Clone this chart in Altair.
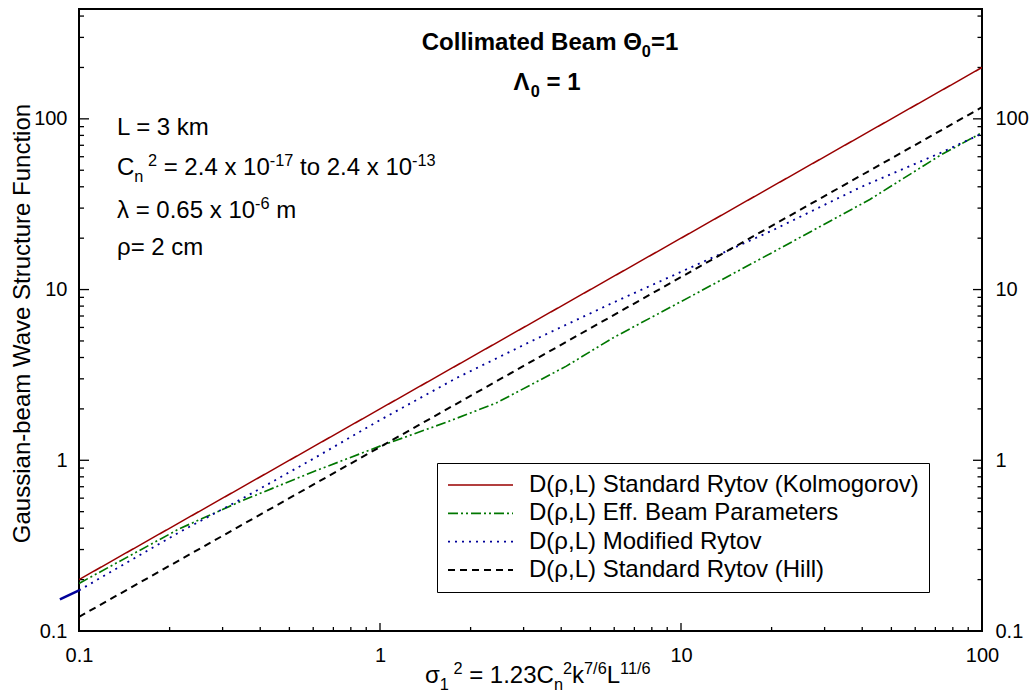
import altair as alt
import pandas as pd

FONT = "Liberation Sans, Arial, Helvetica, sans-serif"

# ---------------- data ----------------
x_kolm = [0.1, 100]
y_kolm = [0.2, 200]

x_hill = [0.1, 100]
y_hill = [0.121, 117]

x_mod = [0.1, 0.216, 0.351, 0.6, 1.0, 1.8, 3.27, 6.0, 10.7, 20.0, 39.3, 72.5, 100]
y_mod = [0.173, 0.38, 0.60, 1.02, 1.72, 3.04, 5.1, 8.44, 13.4, 22.1, 39.6, 63.0, 82.0]

x_eff = [0.1, 0.216, 0.351, 0.6, 1.0, 1.66, 2.44, 4.16, 5.94, 10.7, 20.0, 42.4, 72.5, 100]
y_eff = [0.19, 0.398, 0.583, 0.857, 1.21, 1.67, 2.17, 3.56, 5.21, 9.06, 16.4, 33.7, 61.0, 83.0]

# small piece of the modified-Rytov curve drawn outside the left frame
x_mod_outside = [0.0864, 0.1]
y_mod_outside = [0.153, 0.173]

series_names = [
    "D(ρ,L) Standard Rytov (Kolmogorov)",
    "D(ρ,L) Eff. Beam Parameters",
    "D(ρ,L) Modified Rytov",
    "D(ρ,L) Standard Rytov (Hill)",
]
series_colors = ["#990000", "#007700", "#000099", "#000000"]
series_dash = [[1, 0], [10, 3, 2, 3, 2, 3], [2, 5], [7, 5]]
series_width = [1.5, 2, 2, 2]

x_major = [0.1, 1, 10, 100]
y_major = [0.1, 1, 10, 100]
x_minor = [m * d for d in (0.1, 1, 10) for m in range(2, 10)]
y_minor = [m * d for d in (0.1, 1, 10) for m in range(2, 10)] + [200, 300, 400]

# ---------------- layout ----------------
W, H = 903, 622
ORX, ORY = 79, 9

xscale = alt.Scale(type="log", domain=[0.1, 100], nice=False)
yscale = alt.Scale(type="log", domain=[0.1, 440], nice=False)

rows = []
for name, xs, ys in zip(series_names, [x_kolm, x_eff, x_mod, x_hill],
                        [y_kolm, y_eff, y_mod, y_hill]):
    for a, b in zip(xs, ys):
        rows.append({"series": name, "x": a, "y": b})
df = pd.DataFrame(rows)

legend = alt.Legend(
    title=None, orient="none", legendX=358, legendY=454,
    symbolType="stroke", symbolSize=4225, symbolStrokeWidth=2,
    clipHeight=24, rowPadding=4.3, padding=10,
    labelFont=FONT, labelFontSize=24, labelColor="black", labelLimit=0,
    labelOffset=15, strokeColor="black", fillColor="white",
)

lab = dict(labelFont=FONT, labelFontSize=20, labelColor="black",
           ticks=False, tickSize=0, domain=False, grid=False,
           labelFlush=False, format=".3~g")

lines = alt.Chart(df).mark_line(clip=True).encode(
    x=alt.X("x:Q", scale=xscale,
            axis=alt.Axis(values=x_major, title=None, orient="bottom",
                          labelPadding=14, **lab)),
    y=alt.Y("y:Q", scale=yscale,
            axis=alt.Axis(values=y_major, orient="left", labelPadding=12,
                          title="Gaussian-beam Wave Structure Function",
                          titleX=-57, titleY=314, titleAngle=270,
                          titleAlign="center", titleBaseline="middle",
                          titleFont=FONT, titleFontSize=24,
                          titleFontWeight="normal", titleColor="black", **lab)),
    color=alt.Color("series:N", scale=alt.Scale(domain=series_names, range=series_colors),
                    legend=legend),
    strokeDash=alt.StrokeDash("series:N",
                              scale=alt.Scale(domain=series_names, range=series_dash),
                              legend=legend),
    strokeWidth=alt.StrokeWidth("series:O", sort=series_names,
                                scale=alt.Scale(domain=series_names, range=series_width),
                                legend=None),
)

outside = alt.Chart(pd.DataFrame({"x": x_mod_outside, "y": y_mod_outside})).mark_line(
    clip=False, color=series_colors[2], strokeWidth=2.5
).encode(
    x=alt.X("x:Q", scale=xscale, axis=None),
    y=alt.Y("y:Q", scale=yscale, axis=None),
)


def yticks(vals, x1, x2, axis=None):
    return alt.Chart(pd.DataFrame({"v": vals})).mark_rule(color="black", strokeWidth=1.3).encode(
        y=alt.Y("v:Q", scale=yscale, axis=axis), x=alt.value(x1), x2=alt.value(x2))


def xticks(vals, length):
    return alt.Chart(pd.DataFrame({"v": vals})).mark_rule(color="black", strokeWidth=1.3).encode(
        x=alt.X("v:Q", scale=xscale, axis=None), y=alt.value(H), y2=alt.value(H - length))


right_axis = alt.Axis(values=y_major, orient="right", title=None, labelPadding=13, **lab)

tick_layers = [
    yticks(y_major, 0, 10),
    yticks(y_minor, 0, 5),
    yticks(y_major, W, W - 9, axis=right_axis),
    yticks(y_minor, W, W - 4.5),
    xticks(x_major, 8),
    xticks(x_minor, 4),
]

# ---------------- rich text (runs with sub/superscripts) ----------------
W_REG = {" ": .278, "-": .333, ".": .278, "/": .278, "=": .584, "C": .722, "L": .556,
         "c": .5, "k": .5, "m": .833, "n": .556, "o": .556, "t": .278, "x": .5,
         "λ": .5, "ρ": .578, "σ": .617}
W_BOLD = {" ": .278, "B": .722, "C": .722, "a": .556, "d": .611, "e": .556, "i": .278,
          "l": .278, "m": .889, "o": .611, "t": .333, "=": .584, "Θ": .778, "Λ": .722}


def text_width(s, bold):
    table = W_BOLD if bold else W_REG
    return sum(table.get(ch, .556) for ch in s)


one_row = pd.DataFrame({"a": [0]})


def text_mark(txt, px, py, size, bold=False):
    return alt.Chart(one_row).mark_text(
        text=txt, align="left", baseline="alphabetic", font=FONT, fontSize=size,
        fontWeight="bold" if bold else "normal", color="black"
    ).encode(x=alt.value(px - ORX), y=alt.value(py - ORY))


def rich(runs, x0, y0, size, bold=False, center=None):
    sizes = [size if kind == "n" else size * 0.68 for _, kind in runs]
    total = sum(text_width(t, bold) * s for (t, _), s in zip(runs, sizes))
    x = x0 if center is None else center - total / 2
    out = []
    for (t, kind), s in zip(runs, sizes):
        dy = 0 if kind == "n" else (-0.38 * size if kind == "sup" else 0.28 * size)
        lead = len(t) - len(t.lstrip(" "))
        x += text_width(" " * lead, bold) * s          # leading blanks are trimmed by SVG
        core = t.strip(" ")
        if core:
            out.append(text_mark(core, x, y0 + dy, s, bold))
        x += text_width(t[lead:], bold) * s
    return out


text_layers = []
text_layers += rich([("Collimated Beam Θ", "n"), ("0", "sub"), ("=1", "n")], 0, 50, 24,
                    bold=True, center=550)
text_layers += rich([("Λ", "n"), ("0", "sub"), (" = 1", "n")], 0, 90, 24, bold=True, center=547)
text_layers += rich([("L = 3 km", "n")], 117, 135, 24)
text_layers += rich([("C", "n"), ("n", "sub"), (" 2", "sup"), (" = 2.4 x 10", "n"),
                     ("-17", "sup"), (" to 2.4 x 10", "n"), ("-13", "sup")], 117, 175, 24)
text_layers += rich([("λ = 0.65 x 10", "n"), ("-6", "sup"), (" m", "n")], 117, 218, 24)
text_layers += rich([("ρ= 2 cm", "n")], 117, 255, 24)
text_layers += rich([("σ", "n"), ("1", "sub"), (" 2", "sup"), (" = 1.23C", "n"), ("n", "sub"),
                     ("2", "sup"), ("k", "n"), ("7/6", "sup"), ("L", "n"), ("11/6", "sup")],
                    425, 683, 24)

chart = alt.layer(
    *tick_layers, lines, outside, *text_layers
).resolve_axis(
    x="independent", y="independent"
).properties(
    width=W, height=H,
    autosize=alt.AutoSizeParams(type="none"),
    padding={"left": ORX, "top": ORY, "right": 1035 - ORX - W, "bottom": 694 - ORY - H},
    background="white",
).configure_view(stroke="black", strokeWidth=2)

chart.save("out.html", embed_options={"renderer": "svg", "actions": False})
